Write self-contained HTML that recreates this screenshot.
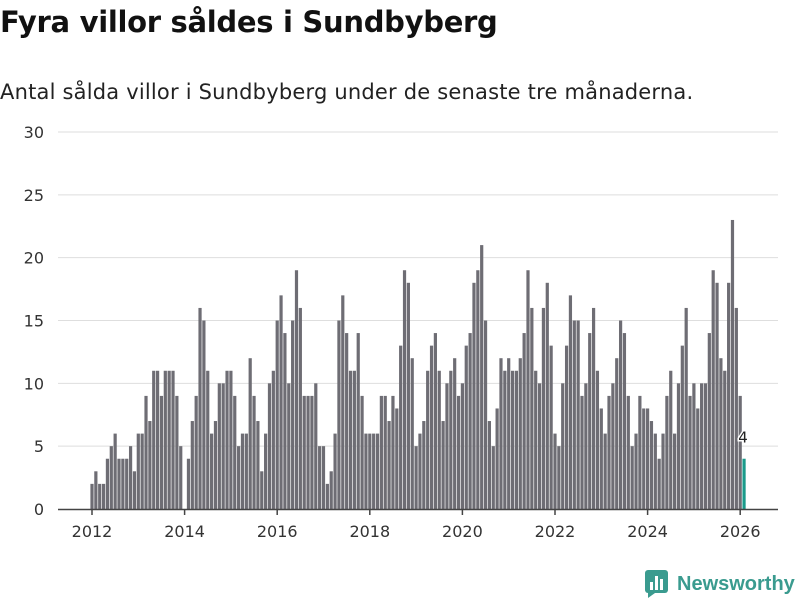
<!DOCTYPE html>
<html><head><meta charset="utf-8">
<style>
body{margin:0;width:800px;height:600px;background:#fff;font-family:"DejaVu Sans","Liberation Sans",sans-serif;overflow:hidden;position:relative}
h1{position:absolute;left:0;top:5px;margin:0;font-size:29px;font-weight:bold;color:#111;letter-spacing:-0.3px}
p.sub{position:absolute;left:0;top:80px;margin:0;font-size:21px;color:#222;letter-spacing:0.2px}
svg{position:absolute;left:0;top:0}
</style></head><body>
<h1>Fyra villor såldes i Sundbyberg</h1>
<p class="sub">Antal sålda villor i Sundbyberg under de senaste tre månaderna.</p>
<svg id="chart" width="800" height="600"></svg>
<div style="position:absolute;left:645px;top:570px;display:flex;align-items:center">
<svg width="24" height="28" style="position:static"><rect x="0" y="0" width="23" height="23" rx="3" fill="#3a9b8f"/><rect x="5" y="12" width="3" height="8" fill="#fff"/><rect x="10" y="6" width="3" height="14" fill="#fff"/><rect x="15" y="9" width="3" height="11" fill="#fff"/><polygon points="3,23 10,23 3,28" fill="#3a9b8f"/></svg>
<span style="font-family:'Liberation Sans',sans-serif;font-size:20px;font-weight:bold;color:#3a9b8f;margin-left:8px">Newsworthy</span></div>
<script>
const values=[2,3,2,2,4,5,6,4,4,4,5,3,
6,6,9,7,11,11,9,11,11,11,9,5,
0,4,7,9,16,15,11,6,7,10,10,11,
11,9,5,6,6,12,9,7,3,6,10,11,
15,17,14,10,15,19,16,9,9,9,10,5,
5,2,3,6,15,17,14,11,11,14,9,6,
6,6,6,9,9,7,9,8,13,19,18,12,
5,6,7,11,13,14,11,7,10,11,12,9,
10,13,14,18,19,21,15,7,5,8,12,11,
12,11,11,12,14,19,16,11,10,16,18,13,
6,5,10,13,17,15,15,9,10,14,16,11,
8,6,9,10,12,15,14,9,5,6,9,8,
8,7,6,4,6,9,11,6,10,13,16,9,
10,8,10,10,14,19,18,12,11,18,23,16,
9,4];
const startYear=2012;
const yTicks=[0,5,10,15,20,25,30];
const xTicks=[2012,2014,2016,2018,2020,2022,2024,2026];
const svg=document.getElementById('chart');
const NS='http://www.w3.org/2000/svg';
const y0=509,yPer=(509-132)/30;
const x0=92,perMonth=46.3/12;
const yS=v=>y0-v*yPer;
const xS=m=>x0+m*perMonth;
function mk(t,a){const e=document.createElementNS(NS,t);for(const k in a)e.setAttribute(k,a[k]);svg.appendChild(e);return e;}
yTicks.forEach(t=>{
 if(t>0){const g=mk('line',{x1:58,x2:778,y1:yS(t),y2:yS(t),stroke:'#dedede','stroke-width':1});
 
 }
 const l=mk('text',{x:44,y:yS(t)+6,'text-anchor':'end','font-size':16,fill:'#333'});
 l.textContent=t;
 
 
});
values.forEach((v,i)=>{
 const last=i===values.length-1;
 const r=mk('rect',{x:xS(i)-1.6,y:yS(v),width:3.2,height:v*yPer,fill:last?'#1a9a8a':'#6e6d74'});
 
 
 if(last){const t=mk('text',{x:xS(i)-1,y:yS(v)-16,'text-anchor':'middle','font-size':15,fill:'#222',stroke:'#fff','stroke-width':3,'paint-order':'stroke'});
 t.textContent=v;
 
 }
});
const ax=mk('line',{x1:58,x2:778,y1:y0+0.5,y2:y0+0.5,stroke:'#444','stroke-width':1.5});


xTicks.forEach(yr=>{
 const x=xS((yr-startYear)*12);
 const tk=mk('line',{x1:x,x2:x,y1:y0,y2:y0+6,stroke:'#444','stroke-width':1.5});
 
 
 const t=mk('text',{x:x,y:537,'text-anchor':'middle','font-size':16,fill:'#333'});
 t.textContent=yr;
 
 
});
</script>
</body></html>
